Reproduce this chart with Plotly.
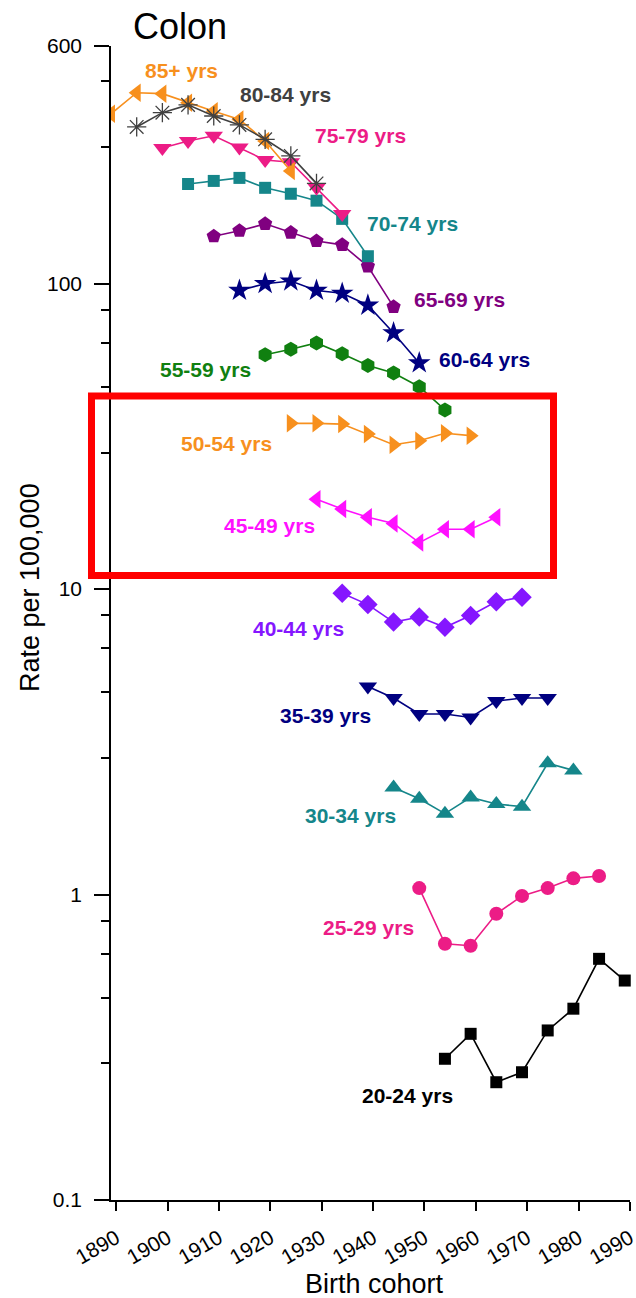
import plotly.graph_objects as go

# ---------------- data ----------------
age_groups = ["85+ yrs", "80-84 yrs", "75-79 yrs", "70-74 yrs", "65-69 yrs", "60-64 yrs",
              "55-59 yrs", "50-54 yrs", "45-49 yrs", "40-44 yrs", "35-39 yrs", "30-34 yrs",
              "25-29 yrs", "20-24 yrs"]

first_cohort = [1889, 1894, 1899, 1904, 1909, 1914, 1919, 1924, 1929, 1934, 1939, 1944, 1949, 1954]

rate_85 = [360, 422, 419, 391, 367, 345, 293, 234]
rate_80 = [326, 363, 385, 354, 331, 297, 262, 213]
rate_75 = [278, 293, 305, 279, 254, 250, 206, 169]
rate_70 = [212, 217, 222, 206, 197, 187, 163, 123]
rate_65 = [143, 149, 157, 147, 138, 134, 114, 84]
rate_60 = [95, 100, 102, 95, 93, 85, 69, 55]
rate_55 = [58.5, 61, 64, 59, 54, 51, 46, 38.6]
rate_50 = [34.9, 34.9, 34.7, 32.2, 29.7, 30.6, 32.4, 31.8]
rate_45 = [19.7, 18.3, 17.2, 16.4, 14.2, 15.7, 15.7, 17.2]
rate_40 = [9.7, 8.9, 7.8, 8.1, 7.5, 8.2, 9.1, 9.4]
rate_35 = [4.8, 4.4, 3.9, 3.9, 3.8, 4.3, 4.4, 4.4]
rate_30 = [2.24, 2.06, 1.84, 2.08, 1.98, 1.94, 2.69, 2.55]
rate_25 = [1.05, 0.69, 0.68, 0.865, 0.99, 1.05, 1.13, 1.15]
rate_20 = [0.29, 0.35, 0.243, 0.262, 0.359, 0.423, 0.616, 0.523]

rates = [rate_85, rate_80, rate_75, rate_70, rate_65, rate_60, rate_55, rate_50,
         rate_45, rate_40, rate_35, rate_30, rate_25, rate_20]

x_tick_vals = [1890, 1900, 1910, 1920, 1930, 1940, 1950, 1960, 1970, 1980, 1990]
y_tick_vals = [0.1, 1, 10, 100, 600]
y_tick_text = ["0.1", "1", "10", "100", "600"]
y_minor_vals = [0.28, 0.46, 0.64, 0.82, 2.8, 4.6, 6.4, 8.2, 28, 46, 64, 82, 280, 460]

# ---------------- styles ----------------
ORANGE = "#F7901E"
PINK = "#EC1C86"
TEAL = "#15868A"
NAVY = "#000080"
styles = {
    "85+ yrs":   dict(color=ORANGE, symbol="triangle-left", size=16, label=(181, 70)),
    "80-84 yrs": dict(color="#404040", symbol="asterisk-open", size=16, label=(285, 95)),
    "75-79 yrs": dict(color=PINK, symbol="triangle-down", size=16, label=(360, 135)),
    "70-74 yrs": dict(color=TEAL, symbol="square", size=12, label=(412, 223)),
    "65-69 yrs": dict(color="#800080", symbol="pentagon", size=15, label=(459, 299)),
    "60-64 yrs": dict(color=NAVY, symbol="star", size=17, label=(484, 359)),
    "55-59 yrs": dict(color="#108010", symbol="hexagon", size=15, label=(205, 370)),
    "50-54 yrs": dict(color=ORANGE, symbol="triangle-right", size=16, label=(226, 443)),
    "45-49 yrs": dict(color="#FF10FF", symbol="triangle-left", size=16, label=(269, 525)),
    "40-44 yrs": dict(color="#8516FF", symbol="diamond", size=15, label=(298, 628)),
    "35-39 yrs": dict(color=NAVY, symbol="triangle-down", size=16, label=(325, 715)),
    "30-34 yrs": dict(color=TEAL, symbol="triangle-up", size=16, label=(350, 816)),
    "25-29 yrs": dict(color=PINK, symbol="circle", size=14, label=(368, 927)),
    "20-24 yrs": dict(color="#000000", symbol="square", size=12, label=(407, 1095)),
}
draw_order = ["20-24 yrs", "25-29 yrs", "30-34 yrs", "35-39 yrs", "40-44 yrs", "45-49 yrs",
              "50-54 yrs", "55-59 yrs", "60-64 yrs", "65-69 yrs", "70-74 yrs", "75-79 yrs",
              "85+ yrs", "80-84 yrs"]

W, H = 636, 1298
ML, MR, MT, MB = 111, 6, 46, 98
PW, PH = W - ML - MR, H - MT - MB


def px_x(px):
    return (px - ML) / PW


def px_y(py):
    return (H - MB - py) / PH


FONT = "Arial, Liberation Sans, sans-serif"

fig = go.Figure()
for name in draw_order:
    i = age_groups.index(name)
    st = styles[name]
    vals = rates[i]
    years = [first_cohort[i] + 5 * k for k in range(len(vals))]
    is_open = st["symbol"].endswith("open")
    fig.add_trace(go.Scatter(
        x=years, y=vals, mode="lines+markers", name=name,
        line=dict(color=st["color"], width=1.6),
        marker=dict(symbol=st["symbol"], size=st["size"], color=st["color"],
                    line=dict(color=st["color"], width=1.3 if is_open else 0)),
        cliponaxis=(name != "20-24 yrs"),
        showlegend=False,
    ))

annotations = []
for name in age_groups:
    st = styles[name]
    lx, ly = st["label"]
    annotations.append(dict(
        x=px_x(lx), y=px_y(ly), xref="paper", yref="paper", text="<b>%s</b>" % name,
        showarrow=False, xanchor="center", yanchor="middle",
        font=dict(family=FONT, size=21, color=st["color"]),
    ))

annotations.append(dict(x=px_x(180), y=px_y(27), xref="paper", yref="paper", text="Colon",
                        showarrow=False, xanchor="center", yanchor="middle",
                        font=dict(family=FONT, size=36, color="black")))
annotations.append(dict(x=px_x(30), y=px_y(588), xref="paper", yref="paper",
                        text="Rate per 100,000", textangle=-90,
                        showarrow=False, xanchor="center", yanchor="middle",
                        font=dict(family=FONT, size=27, color="black")))
annotations.append(dict(x=px_x(374), y=px_y(1284), xref="paper", yref="paper",
                        text="Birth cohort",
                        showarrow=False, xanchor="center", yanchor="middle",
                        font=dict(family=FONT, size=27, color="black")))

fig.update_layout(
    width=W, height=H,
    margin=dict(l=ML, r=MR, t=MT, b=MB, pad=0, autoexpand=False),
    paper_bgcolor="white", plot_bgcolor="white",
    font=dict(family=FONT, color="black"),
    annotations=annotations,
    shapes=[dict(type="rect", xref="paper", yref="paper",
                 x0=px_x(91.5), x1=px_x(553.5), y0=px_y(575.5), y1=px_y(396),
                 line=dict(color="#FF0000", width=7), fillcolor="rgba(0,0,0,0)", layer="above")],
)

fig.update_xaxes(
    range=[1889.0, 1990.02], showline=True, linecolor="black", linewidth=1.6,
    showgrid=False, zeroline=False, tickmode="array", tickvals=x_tick_vals,
    ticks="outside", ticklen=9, tickwidth=1.6, tickcolor="black",
    tickangle=-30, tickfont=dict(family=FONT, size=21, color="black"),
    ticklabeloverflow="allow", ticklabelstandoff=7, automargin=False,
)
fig.update_yaxes(
    type="log", range=[-1, 2.7782], showline=True, linecolor="black", linewidth=1.6,
    showgrid=False, zeroline=False, tickmode="array", tickvals=y_tick_vals, ticktext=y_tick_text,
    ticks="outside", ticklen=15, tickwidth=1.6, tickcolor="black",
    tickfont=dict(family=FONT, size=21, color="black"), ticklabelstandoff=8, automargin=False,
    minor=dict(tickmode="array", tickvals=y_minor_vals, ticks="outside", ticklen=8,
               tickwidth=1.6, tickcolor="black", showgrid=False),
)

fig.write_html("out.html")
